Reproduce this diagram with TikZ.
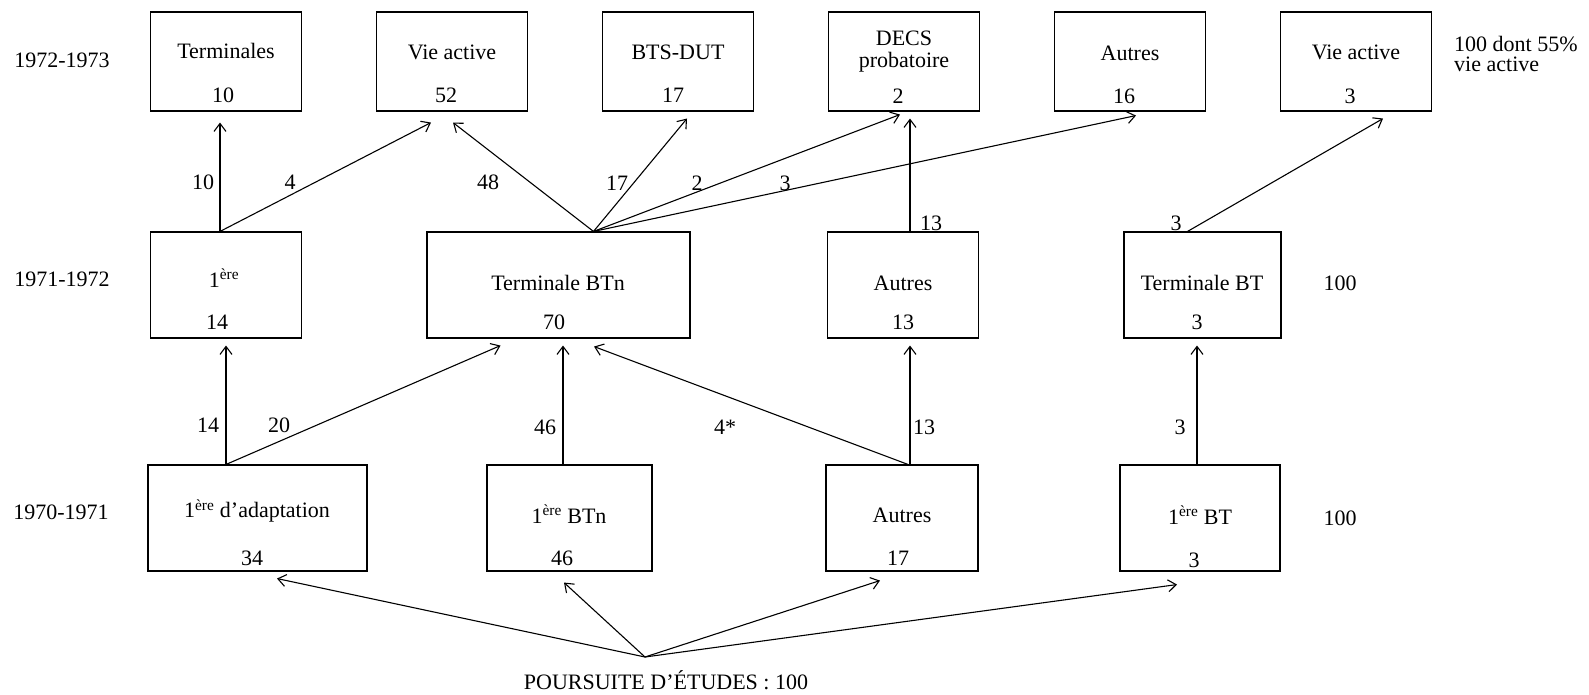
\documentclass[tikz,border=0pt]{standalone}
\usepackage{fontspec}
\setmainfont{Liberation Serif}
\usetikzlibrary{arrows.meta,positioning,calc}
\tikzset{
  flowbox/.style={rectangle,draw=black,fill=white,line width=1.1pt,
    inner sep=0pt,minimum width=151pt,minimum height=106pt},
  boxtext/.style={inner sep=0pt,font=\fontsize{22}{22}\selectfont,align=center},
  flowlbl/.style={inner sep=0pt,font=\fontsize{22}{22}\selectfont},
  flowedge/.style={-{Straight Barb[length=8pt,width=12pt]},line width=1.1pt},
}

\begin{document}
\begin{tikzpicture}[x=1pt,y=-1pt]
  \useasboundingbox (0,0) rectangle (1589,695);

  % years
  \node[flowlbl] (y73) at (62,60) {1972-1973};
  \node[flowlbl] (y72) at (62,279) {1971-1972};
  \node[flowlbl] (y71) at (61,512) {1970-1971};

  % 1972-1973
  \node[flowbox,minimum height=99pt] (a1) at (226,61.5) {};
  \node[flowbox,minimum height=99pt] (a2) at (452,61.5) {};
  \node[flowbox,minimum height=99pt] (a3) at (678,61.5) {};
  \node[flowbox,minimum height=99pt] (a4) at (904,61.5) {};
  \node[flowbox,minimum height=99pt] (a5) at (1130,61.5) {};
  \node[flowbox,minimum height=99pt] (a6) at (1356,61.5) {};
  \node[boxtext] (a1t) at (226,51) {Terminales};
  \node[boxtext] (a1n) at (223,95) {10};
  \node[boxtext] (a2t) at (452,52) {Vie active};
  \node[boxtext] (a2n) at (446,95) {52};
  \node[boxtext] (a3t) at (678,52) {BTS-DUT};
  \node[boxtext] (a3n) at (673,95) {17};
  \node[boxtext] (a4t) at (904,52) {DECS\\probatoire};
  \node[boxtext] (a4n) at (898,96) {2};
  \node[boxtext] (a5t) at (1130,53) {Autres};
  \node[boxtext] (a5n) at (1124,96) {16};
  \node[boxtext] (a6t) at (1356,52) {Vie active};
  \node[boxtext] (a6n) at (1350,96) {3};
  \node[flowlbl,align=left,anchor=west,font=\fontsize{22}{20}\selectfont]
    (tot73) at (1454,54) {100 dont 55\%\\vie active};

  % 1971-1972
  \node[flowbox] (b1) at (226,285) {};
  \node[flowbox,minimum width=263pt] (b2) at (558.5,285) {};
  \node[flowbox] (b3) at (903,285) {};
  \node[flowbox,minimum width=157pt] (b4) at (1202.5,285) {};
  \node[boxtext] (b1t) at (224,278) {1\textsuperscript{ère}};
  \node[boxtext] (b1n) at (217,322) {14};
  \node[boxtext] (b2t) at (558,283) {Terminale BTn};
  \node[boxtext] (b2n) at (554,322) {70};
  \node[boxtext] (b3t) at (903,283) {Autres};
  \node[boxtext] (b3n) at (903,322) {13};
  \node[boxtext] (b4t) at (1202,283) {Terminale BT};
  \node[boxtext] (b4n) at (1197,322) {3};
  \node[flowlbl] (tot72) at (1340,283) {100};

  % 1970-1971
  \node[flowbox,minimum width=219pt] (c1) at (257.5,518) {};
  \node[flowbox,minimum width=165pt] (c2) at (569.5,518) {};
  \node[flowbox,minimum width=152pt] (c3) at (902,518) {};
  \node[flowbox,minimum width=160pt] (c4) at (1200,518) {};
  \node[boxtext] (c1t) at (257,511) {1\textsuperscript{ère} d'adaptation};
  \node[boxtext] (c1n) at (252,558) {34};
  \node[boxtext] (c2t) at (569,514) {1\textsuperscript{ère} BTn};
  \node[boxtext] (c2n) at (562,558) {46};
  \node[boxtext] (c3t) at (902,515) {Autres};
  \node[boxtext] (c3n) at (898,558) {17};
  \node[boxtext] (c4t) at (1200,515) {1\textsuperscript{ère} BT};
  \node[boxtext] (c4n) at (1194,560) {3};
  \node[flowlbl] (tot71) at (1340,518) {100};

  % origine
  \coordinate (src) at (645,657);
  \node[flowlbl] (srct) at (666,680) {POURSUITE D'ÉTUDES : 100};

  % 1971-1972 -> 1972-1973
  \draw[flowedge] ([shift={(-6,0)}]b1.north) -- ([shift={(-6,11)}]a1.south);
  \draw[flowedge] ([shift={(-6,0)}]b1.north) -- ([shift={(-21,11)}]a2.south);
  \draw[flowedge] ([shift={(35,0)}]b2.north) -- ([shift={(1,11)}]a2.south);
  \draw[flowedge] ([shift={(35,0)}]b2.north) -- ([shift={(9,7)}]a3.south);
  \draw[flowedge] ([shift={(35,0)}]b2.north) -- ([shift={(-4,3)}]a4.south);
  \draw[flowedge] ([shift={(35,0)}]b2.north) -- ([shift={(6,4)}]a5.south);
  \draw[flowedge] ([shift={(7,0)}]b3.north) -- ([shift={(6,7)}]a4.south);
  \draw[flowedge] ([shift={(-15,0)}]b4.north) -- ([shift={(27,7)}]a6.south);
  \node[flowlbl] (e1) at (203,182) {10};
  \node[flowlbl] (e2) at (290,182) {4};
  \node[flowlbl] (e3) at (488,182) {48};
  \node[flowlbl] (e4) at (617,183) {17};
  \node[flowlbl] (e5) at (697,183) {2};
  \node[flowlbl] (e6) at (785,183) {3};
  \node[flowlbl] (e7) at (931,223) {13};
  \node[flowlbl] (e8) at (1176,223) {3};

  % 1970-1971 -> 1971-1972
  \draw[flowedge] ([shift={(-31.5,0)}]c1.north) -- ([shift={(0,7)}]b1.south);
  \draw[flowedge] ([shift={(-31.5,0)}]c1.north) -- ([shift={(-58,7)}]b2.south);
  \draw[flowedge] ([shift={(-6.5,0)}]c2.north) -- ([shift={(4.5,7)}]b2.south);
  \draw[flowedge] ([shift={(6,0)}]c3.north) -- ([shift={(35.5,8)}]b2.south);
  \draw[flowedge] ([shift={(8,0)}]c3.north) -- ([shift={(7,7)}]b3.south);
  \draw[flowedge] ([shift={(-3,0)}]c4.north) -- ([shift={(-5.5,7)}]b4.south);
  \node[flowlbl] (f1) at (208,425) {14};
  \node[flowlbl] (f2) at (279,425) {20};
  \node[flowlbl] (f3) at (545,427) {46};
  \node[flowlbl] (f4) at (725,427) {4*};
  \node[flowlbl] (f5) at (924,427) {13};
  \node[flowlbl] (f6) at (1180,427) {3};

  % origine -> 1970-1971
  \draw[flowedge] (src) -- ([shift={(19.5,7)}]c1.south);
  \draw[flowedge] (src) -- ([shift={(-5.5,11)}]c2.south);
  \draw[flowedge] (src) -- ([shift={(-22,9)}]c3.south);
  \draw[flowedge] (src) -- ([shift={(-23,13)}]c4.south);
\end{tikzpicture}
\end{document}
